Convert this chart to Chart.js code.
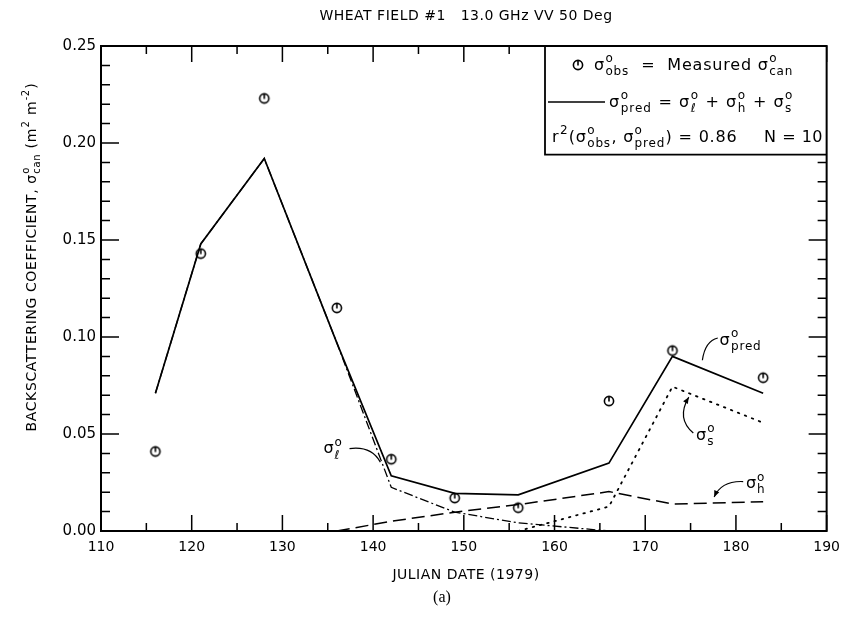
<!DOCTYPE html>
<html>
<head>
<meta charset="utf-8">
<script src="https://cdn.jsdelivr.net/npm/chart.js@4.4.1/dist/chart.umd.min.js"></script>
<style>
  html, body { margin: 0; padding: 0; background: #fff; }
  #wrap { width: 848px; height: 633px; position: relative; }
</style>
</head>
<body>
<div id="wrap"><canvas id="chart" width="848" height="633"></canvas></div>
<script>
// julian dates of the 10 measurements
const dates = [116, 121, 128, 136, 142, 149, 156, 166, 173, 183];
// measured sigma0 (circles)
const obsVals = [0.041, 0.143, 0.223, 0.115, 0.037, 0.017, 0.012, 0.067, 0.093, 0.079];
// model: total and its three parts (null = not drawn)
const predVals = [0.071, 0.148, 0.192, 0.097, 0.0285, 0.0194, 0.0186, 0.035, 0.090, 0.071];
const sigL = [0.071, 0.148, 0.192, 0.097, 0.0225, 0.0097, 0.0042, 0.0, null, null];
const sigH = [null, null, null, 0.0, 0.005, 0.0097, 0.0136, 0.0203, 0.0139, 0.0151];
const sigS = [null, null, null, null, null, null, 0.0, 0.0126, 0.0744, 0.0558];
const xTickVals = [110, 120, 130, 140, 150, 160, 170, 180, 190];
const yTickVals = [0.00, 0.05, 0.10, 0.15, 0.20, 0.25];

const FONT = '"DejaVu Sans", sans-serif';

const toXY = arr => dates.map((d, i) => ({ x: d, y: arr[i] })).filter(p => p.y !== null);

// circle marker with a small tick inside, like the plotter symbol
const mk = document.createElement('canvas');
mk.width = 14; mk.height = 14;
(function () {
  const c = mk.getContext('2d');
  c.strokeStyle = '#000';
  c.lineWidth = 1.6;
  c.beginPath(); c.arc(7, 7, 4.6, 0, Math.PI * 2); c.stroke();
  c.beginPath(); c.moveTo(7, 3); c.lineTo(7, 7.5); c.stroke();
})();

// text with sub/superscripts. parts: string or {b, sup, sub}
function rich(ctx, parts, x, y, size, align, sp) {
  const small = Math.round(size * 0.72);
  ctx.letterSpacing = (sp || 0) + 'px';
  const widths = parts.map(p => {
    if (typeof p === 'string') { ctx.font = size + 'px ' + FONT; return ctx.measureText(p).width; }
    ctx.font = size + 'px ' + FONT;
    const bw = p.b ? ctx.measureText(p.b).width : 0;
    ctx.font = small + 'px ' + FONT;
    const ew = Math.max(ctx.measureText(p.sup || '').width, ctx.measureText(p.sub || '').width);
    return bw + ew + 1;
  });
  const total = widths.reduce((a, b) => a + b, 0);
  let cx = align === 'center' ? x - total / 2 : align === 'right' ? x - total : x;
  ctx.textAlign = 'left';
  ctx.textBaseline = 'alphabetic';
  parts.forEach((p, i) => {
    if (typeof p === 'string') {
      ctx.font = size + 'px ' + FONT;
      ctx.fillText(p, cx, y);
    } else {
      ctx.font = size + 'px ' + FONT;
      let bw = 0;
      if (p.b) { ctx.fillText(p.b, cx, y); bw = ctx.measureText(p.b).width; }
      ctx.font = small + 'px ' + FONT;
      if (p.sup) ctx.fillText(p.sup, cx + bw + 0.5, y - size * 0.48);
      if (p.sub) ctx.fillText(p.sub, cx + bw + 0.5, y + size * 0.32);
    }
    cx += widths[i];
  });
  ctx.letterSpacing = '0px';
  return total;
}

const sig = (sub) => ({ b: 'σ', sup: 'o', sub: sub });

function curve(ctx, x0, y0, cx, cy, x1, y1, head) {
  ctx.beginPath();
  ctx.moveTo(x0, y0);
  ctx.quadraticCurveTo(cx, cy, x1, y1);
  ctx.stroke();
  if (head) {
    const a = Math.atan2(y1 - cy, x1 - cx);
    ctx.beginPath();
    ctx.moveTo(x1, y1);
    ctx.lineTo(x1 - 7 * Math.cos(a - 0.4), y1 - 7 * Math.sin(a - 0.4));
    ctx.lineTo(x1 - 7 * Math.cos(a + 0.4), y1 - 7 * Math.sin(a + 0.4));
    ctx.closePath();
    ctx.fill();
  }
}

const decor = {
  id: 'decor',
  afterDraw(chart) {
    const ctx = chart.ctx;
    const a = chart.chartArea;
    const xs = chart.scales.x, ys = chart.scales.y;
    const X = v => xs.getPixelForValue(v), Y = v => ys.getPixelForValue(v);
    ctx.save();
    ctx.strokeStyle = '#000';
    ctx.fillStyle = '#000';

    // inward ticks on all four sides
    ctx.lineWidth = 1.5;
    for (let v = 110; v <= 190; v += 5) {
      const len = v % 10 === 0 ? 16 : 8;
      const px = X(v);
      ctx.beginPath();
      ctx.moveTo(px, a.bottom); ctx.lineTo(px, a.bottom - len);
      ctx.moveTo(px, a.top); ctx.lineTo(px, a.top + len);
      ctx.stroke();
    }
    for (let k = 0; k <= 25; k++) {
      const len = k % 5 === 0 ? 18 : 9;
      const py = Y(k / 100);
      ctx.beginPath();
      ctx.moveTo(a.left, py); ctx.lineTo(a.left + len, py);
      ctx.moveTo(a.right, py); ctx.lineTo(a.right - len, py);
      ctx.stroke();
    }

    // legend box
    const bx = 545, bb = Y(0.194);
    ctx.fillStyle = '#fff';
    ctx.fillRect(bx, a.top, a.right - bx, bb - a.top);
    ctx.fillStyle = '#000';
    ctx.lineWidth = 1.8;
    ctx.beginPath();
    ctx.moveTo(bx, a.top); ctx.lineTo(bx, bb); ctx.lineTo(a.right, bb);
    ctx.stroke();
    ctx.drawImage(mk, 571, 58);
    rich(ctx, [sig('obs'), '  =  Measured ', sig('can')], 594, 70, 16, 'left', 0.8);
    ctx.lineWidth = 1.6;
    ctx.beginPath(); ctx.moveTo(bx + 3, 102); ctx.lineTo(605, 102); ctx.stroke();
    rich(ctx, [sig('pred'), ' = ', sig('ℓ'), ' + ', sig('h'), ' + ', sig('s')], 609, 107, 16, 'left', 1);
    rich(ctx, ['r', { sup: '2' }, '(', sig('obs'), ', ', sig('pred'), ') = 0.86'], 552, 142, 16, 'left', 0.8);
    rich(ctx, ['N = 10'], 823, 142, 16, 'right', 0.5);

    // frame
    ctx.lineWidth = 2;
    ctx.strokeRect(a.left, a.top, a.right - a.left, a.bottom - a.top);

    // curve labels
    ctx.lineWidth = 1.2;
    rich(ctx, [sig('ℓ')], X(135.6), Y(0.040), 16, 'center', 0.5);
    curve(ctx, X(137.4), Y(0.0425), X(139.8), Y(0.044), X(140.8), Y(0.0355), false);
    rich(ctx, [sig('pred')], X(178.2), Y(0.096), 16, 'left', 0.8);
    curve(ctx, X(178.0), Y(0.0995), X(176.6), Y(0.098), X(176.3), Y(0.088), false);
    rich(ctx, [sig('s')], X(175.6), Y(0.047), 16, 'left', 0.5);
    curve(ctx, X(175.3), Y(0.0505), X(173.4), Y(0.058), X(174.8), Y(0.069), true);
    rich(ctx, [sig('h')], X(181.1), Y(0.022), 16, 'left', 0.5);
    curve(ctx, X(180.8), Y(0.0255), X(178.4), Y(0.026), X(177.6), Y(0.0175), true);

    // titles
    ctx.textAlign = 'center';
    ctx.textBaseline = 'middle';
    ctx.letterSpacing = '0.5px';
    ctx.font = '14px ' + FONT;
    ctx.fillText('WHEAT FIELD #1   13.0 GHz VV 50 Deg', 466, 16);
    ctx.fillText('JULIAN DATE (1979)', 466, 575);
    ctx.letterSpacing = '0px';
    ctx.font = '16px "Liberation Serif", serif';
    ctx.fillText('(a)', 442, 598);

    ctx.translate(31, 257);
    ctx.rotate(-Math.PI / 2);
    rich(ctx, ['BACKSCATTERING COEFFICIENT, ', sig('can'), ' (m', { sup: '2' }, ' m', { sup: '-2' }, ')'], 0, 5, 14, 'center', 0.6);
    ctx.restore();
  }
};

new Chart(document.getElementById('chart'), {
  type: 'line',
  data: {
    datasets: [
      { label: 'obs', data: toXY(obsVals), showLine: false, pointStyle: mk, pointRadius: 7, borderColor: '#000' },
      { label: 'pred', data: toXY(predVals), borderColor: '#000', borderWidth: 1.7, pointRadius: 0, tension: 0 },
      { label: 'sigma_l', data: toXY(sigL), borderColor: '#000', borderWidth: 1.3, borderDash: [9, 3, 2, 3], pointRadius: 0, tension: 0 },
      { label: 'sigma_h', data: toXY(sigH), borderColor: '#000', borderWidth: 1.5, borderDash: [13, 6], pointRadius: 0, tension: 0 },
      { label: 'sigma_s', data: toXY(sigS), borderColor: '#000', borderWidth: 1.8, borderDash: [1.5, 6], borderCapStyle: 'round', pointRadius: 0, tension: 0 }
    ]
  },
  options: {
    responsive: false,
    animation: false,
    layout: { padding: { left: 0, top: 46, right: 17, bottom: 0 } },
    plugins: { legend: { display: false }, tooltip: { enabled: false } },
    scales: {
      x: {
        type: 'linear', min: 110, max: 190,
        afterBuildTicks: s => { s.ticks = xTickVals.map(v => ({ value: v })); },
        ticks: { font: { family: FONT, size: 14 }, color: '#000', padding: 8, maxRotation: 0 },
        grid: { display: false, drawTicks: false },
        border: { display: false },
        afterFit: s => { s.height = 102; }
      },
      y: {
        min: 0, max: 0.25,
        afterBuildTicks: s => { s.ticks = yTickVals.map(v => ({ value: v })); },
        ticks: { font: { family: FONT, size: 15 }, color: '#000', padding: 5, callback: v => v.toFixed(2) },
        grid: { display: false, drawTicks: false },
        border: { display: false },
        afterFit: s => { s.width = 101; }
      }
    }
  },
  plugins: [decor]
});
</script>
</body>
</html>
